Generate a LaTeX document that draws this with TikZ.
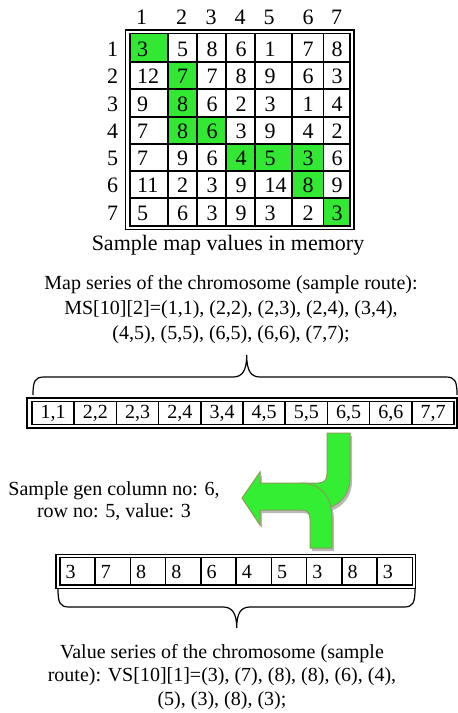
\documentclass[tikz,border=0pt]{standalone}
\usepackage{fontspec}
\setmainfont{Liberation Serif}
\definecolor{cellgreen}{RGB}{51,232,51}
\definecolor{arrowgreen}{RGB}{51,238,51}
\definecolor{arrowline}{RGB}{140,158,90}

\begin{document}
\begin{tikzpicture}[x=1pt, y=-1pt,
    num/.style={anchor=west, inner sep=0pt, font=\fontsize{22}{26}\selectfont},
    lbl/.style={inner sep=0pt, font=\fontsize{22}{26}\selectfont},
    cell/.style={anchor=base west, inner sep=0pt, font=\fontsize{20}{24}\selectfont},
    txt/.style={inner sep=0pt, align=center, font=\fontsize{20}{24}\selectfont},
    gridline/.style={line width=1.8pt},
    boxline/.style={line width=1.5pt},
    bracepath/.style={line width=1.2pt},
    arrowpiece/.style={fill=arrowgreen, draw=arrowline, line width=1pt},
    shadowpiece/.style={fill=gray!55}]
  \useasboundingbox (0,0) rectangle (458,713);

  % map values
  \foreach \xa/\xb/\ya/\yb in {130/168/33.5/62, 168/197/62/89.3, 168/197/89.3/116.7,
      168/197/116.7/144, 197/226/116.7/144, 226/255/144/171, 255/292/144/171,
      292/323.5/144/171, 292/323.5/171/198, 323.5/350/198/225.7}
    \fill[cellgreen] (\xa,\ya) rectangle (\xb,\yb);
  \foreach \x in {168,197,226,255,292,323.5}
    \draw[gridline] (\x,33.5) -- (\x,225.7);
  \foreach \y in {62,89.3,116.7,144,171,198}
    \draw[gridline] (130,\y) -- (350,\y);
  \draw[gridline] (130,33.5) rectangle (350,225.7);
  \draw[boxline] (125.5,30) rectangle (354,229.3);

  \foreach \hx [count=\c] in {141.7,181.7,211,240,269,308,336.7}
    \node[lbl] (h\c) at (\hx,17) {\c};
  \foreach \r/\vals in {1/{3,5,8,6,1,7,8}, 2/{12,7,7,8,9,6,3}, 3/{9,8,6,2,3,1,4},
      4/{7,8,6,3,9,4,2}, 5/{7,9,6,4,5,3,6}, 6/{11,2,3,9,14,8,9}, 7/{5,6,3,9,3,2,3}}
    {
      \pgfmathsetmacro{\cy}{{49,76.6,104,131.3,158.5,185.5,212.9}[\r-1]}
      \node[lbl] (r\r) at (112.7,\cy) {\r};
      \foreach \v [count=\c] in \vals
        {
          \pgfmathsetmacro{\cx}{{137,177,206.5,235.5,264.5,302.5,331.5}[\c-1]}
          \node[num] (m\r\c) at (\cx,\cy) {\v};
        }
    }
  \node[txt, font=\fontsize{22}{26}\selectfont] (cap) at (228,245) {Sample map values in memory};

  % map series
  \node[txt, font=\fontsize{20}{25}\selectfont] (mstext) at (231,310)
    {Map series of the chromosome (sample route):\\
     MS[10][2]=(1,1), (2,2), (2,3), (2,4), (3,4),\\
     (4,5), (5,5), (6,5), (6,6), (7,7);};
  \coordinate (msl) at (33,395);
  \coordinate (msr) at (457,395);
  \draw[bracepath] (msl) .. controls (33,381) and (35,377) .. (44,377) -- (233,377)
    .. controls (242,377) and (246.7,371) .. (246.7,355)
    .. controls (246.7,371) and (251,377) .. (260,377) -- (446,377)
    .. controls (455,377) and (457,381) .. (msr);
  \draw[boxline] (27,398) rectangle (457,428);
  \draw[boxline] (32,401.5) rectangle (454,424.5);
  \foreach \i in {1,...,9}
    \draw[boxline] ({32+42.2*\i},401.5) -- ({32+42.2*\i},424.5);
  \foreach \v [count=\i] in {{1,1},{2,2},{2,3},{2,4},{3,4},{4,5},{5,5},{6,5},{6,6},{7,7}}
    \node[cell] (ms\i) at ({32+42.2*(\i-1)+8.5},418) {\v};

  % arrow
  \fill[shadowpiece, shift={(2,3)}] (327,433) -- (350,433) -- (350,478)
    .. controls (350,497) and (336,510) .. (315,510) -- (260,510) -- (260,525)
    -- (242,498) -- (260,472) -- (260,483) -- (318,483)
    .. controls (324,483) and (327,480) .. (327,474) -- cycle;
  \fill[shadowpiece, shift={(2,3)}] (300,483) .. controls (322,483) and (332,498) .. (332,518)
    -- (332,548) -- (310,548) -- (310,519) .. controls (310,513) and (307,510) .. (302,510) -- cycle;
  \path[arrowpiece] (327,433) -- (350,433) -- (350,478)
    .. controls (350,497) and (336,510) .. (315,510) -- (260,510) -- (260,525)
    -- (242,498) -- (260,472) -- (260,483) -- (318,483)
    .. controls (324,483) and (327,480) .. (327,474) -- cycle;
  \path[arrowpiece] (300,483) .. controls (322,483) and (332,498) .. (332,518)
    -- (332,548) -- (310,548) -- (310,519) .. controls (310,513) and (307,510) .. (302,510);
  \node[txt, font=\fontsize{20}{22.5}\selectfont] (gentext) at (114,501)
    {Sample gen column no: 6,\\ row no: 5, value: 3};

  % value series
  \draw[boxline] (56,554.5) rectangle (415.7,588.3);
  \draw[boxline] (60,557.7) rectangle (412.3,585);
  \foreach \i in {1,...,9}
    \draw[boxline] ({60+35.23*\i},557.7) -- ({60+35.23*\i},585);
  \foreach \v [count=\i] in {3,7,8,8,6,4,5,3,8,3}
    \node[cell] (vs\i) at ({60+35.23*(\i-1)+5.5},578.3) {\v};
  \coordinate (vsl) at (58,588.5);
  \coordinate (vsr) at (415,588.5);
  \draw[bracepath] (vsl) .. controls (58,603) and (60,607) .. (69,607) -- (223,607)
    .. controls (232,607) and (236.7,613) .. (236.7,628)
    .. controls (236.7,613) and (241,607) .. (250,607) -- (404,607)
    .. controls (413,607) and (415,603) .. (vsr);
  \node[txt, font=\fontsize{20}{23.5}\selectfont] (vstext) at (222,676.7)
    {Value series of the chromosome (sample\\
     route): VS[10][1]=(3), (7), (8), (8), (6), (4),\\
     (5), (3), (8), (3);};
\end{tikzpicture}
\end{document}
